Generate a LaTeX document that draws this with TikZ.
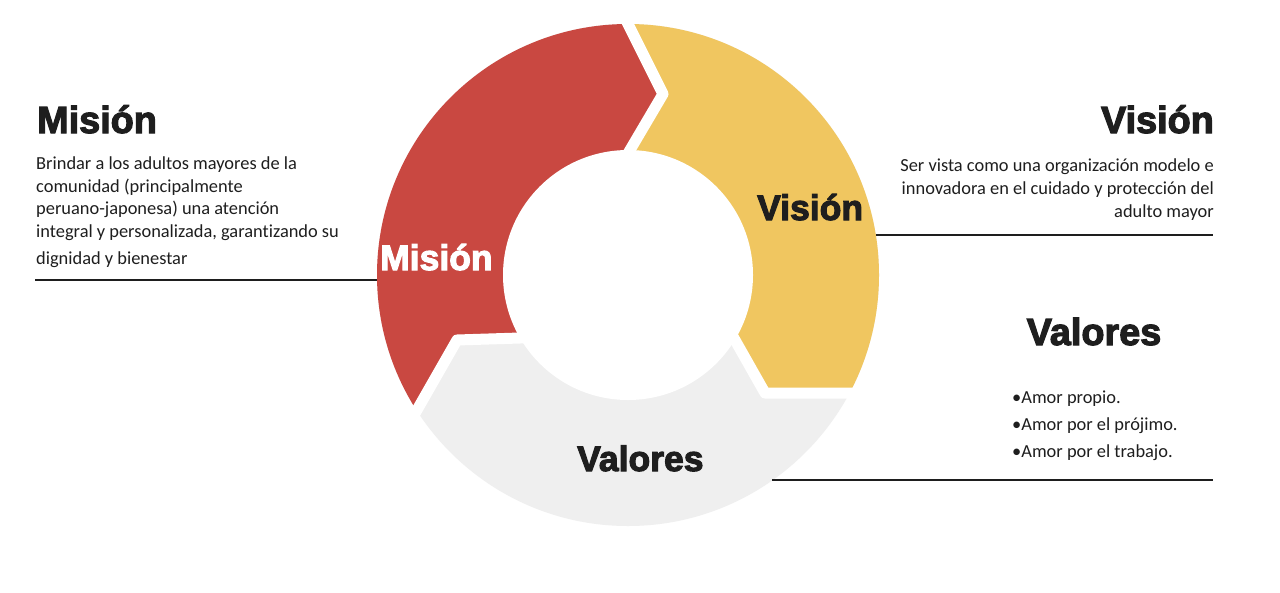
\documentclass[tikz,border=0pt]{standalone}
\usepackage{fontspec}
\setmainfont{Carlito}[Ligatures=NoCommon]
\newfontfamily\headfont{Liberation Sans}[BoldFeatures={FakeBold=3}]
\definecolor{misred}{HTML}{C94841}
\definecolor{visyel}{HTML}{F0C660}
\definecolor{valgrey}{HTML}{EFEFEF}
\definecolor{ink}{HTML}{1E1E1E}
\begin{document}
\begin{tikzpicture}[x=1pt,y=-1pt,
  heading/.style={font=\headfont\bfseries\fontsize{37.8}{40}\selectfont, text=ink, inner sep=0},
  ringlabel/.style={font=\headfont\bfseries\fontsize{35.5}{38}\selectfont, inner sep=0},
  body/.style={font=\fontsize{18.4}{22.4}\selectfont, text=ink, inner sep=0},
  rule/.style={draw=ink, line width=1.4pt},
  gap/.style={draw=white, line width=11pt, line join=round, line cap=round}]
\useasboundingbox[fill=white] (0,0) rectangle (1280,592);

\coordinate (O) at (628,275);
\coordinate (Aout) at (591,-50); \coordinate (Atip) at (663,94); \coordinate (Ain) at (597,206);
\coordinate (Bout) at (930,393); \coordinate (Btip) at (765,393); \coordinate (Bin) at (705,287);
\coordinate (Cout) at (377,480); \coordinate (Ctip) at (457,340); \coordinate (Cin) at (583,336);

\begin{scope}
  \clip (O) circle[radius=251];
  \fill[valgrey] (O) circle[radius=260];
  \fill[misred] (Aout) -- (Atip) -- (Ain) -- (Cin) -- (Ctip) -- (Cout) -- (300,480) -- (300,-50) -- cycle;
  \fill[visyel] (Aout) -- (Atip) -- (Ain) -- (O) -- (Bin) -- (Btip) -- (Bout) -- (930,-50) -- cycle;
\end{scope}
\fill[white] (O) circle[radius=125];
\draw[gap] (Aout) -- (Atip) -- (Ain);
\draw[gap] (Bout) -- (Btip) -- (Bin);
\draw[gap] (Cout) -- (Ctip) -- (Cin);

% ring labels
\node[ringlabel, text=white, anchor=base west] (rm) at (380,270) {Misión};
\node[ringlabel, text=ink, anchor=base west] (rv) at (757,220) {Visión};
\node[ringlabel, text=ink, anchor=base west] (rva) at (577,471) {Valores};

% Mision
\node[heading, anchor=base west] (mh) at (37,133) {Misión};
\node[body, anchor=base west, align=left] (mb) at (36,264)
  {Brindar a los adultos mayores de la\\comunidad (principalmente\\peruano-japonesa) una atención\\integral y personalizada, garantizando su\\[4.5pt]dignidad y bienestar};
\coordinate (ml0) at (35,280); \coordinate (ml1) at (377,280);
\draw[rule] (ml0) -- (ml1);

% Vision
\node[heading, anchor=base east] (vh) at (1214,133) {Visión};
\node[body, anchor=base east, align=right, font=\fontsize{18.4}{23}\selectfont] (vb) at (1214,217)
  {Ser vista como una organización modelo e\\innovadora en el cuidado y protección del\\adulto mayor};
\coordinate (vl0) at (876,235); \coordinate (vl1) at (1213,235);
\draw[rule] (vl0) -- (vl1);

% Valores
\node[heading, anchor=base] (vah) at (1094,345) {Valores};
\node[body, anchor=base west, align=left, font=\fontsize{18.4}{27}\selectfont] (vab) at (1012,457)
  {•Amor propio.\\•Amor por el prójimo.\\•Amor por el trabajo.};
\coordinate (val0) at (772,480); \coordinate (val1) at (1213,480);
\draw[rule] (val0) -- (val1);
\end{tikzpicture}
\end{document}
